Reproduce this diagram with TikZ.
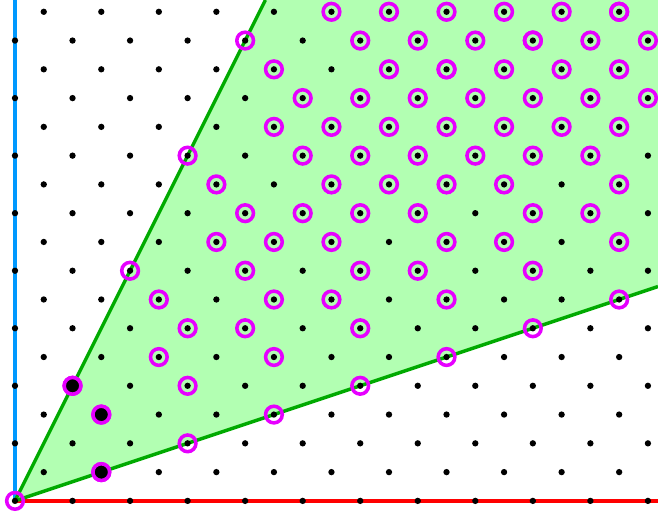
\documentclass[tikz,border=0pt]{standalone}
\definecolor{conefill}{RGB}{178,255,178}
\definecolor{coneline}{RGB}{0,170,0}
\definecolor{axisblue}{RGB}{0,153,255}
\definecolor{axisred}{RGB}{255,0,0}
\definecolor{ringcol}{RGB}{230,0,255}
\tikzset{
  ring/.style={draw=ringcol, line width=1.75pt},
  gen/.style={draw=ringcol, fill=black, line width=1.75pt},
  latdot/.style={fill=black},
  axis/.style={line width=1.7pt},
  coneedge/.style={draw=coneline, line width=1.7pt}
}
\begin{document}
\begin{tikzpicture}[x=0.5cm,y=0.5cm]
\useasboundingbox (-0.521,-0.521) rectangle (22.35,17.41);
\clip (-0.521,-0.521) rectangle (22.35,17.41);
\coordinate (O) at (0,0);
\coordinate (U) at (8.705,17.41);
\coordinate (R) at (22.35,7.45);
\coordinate (TR) at (22.35,17.41);
\fill[conefill] (O) -- (U) -- (TR) -- (R) -- cycle;
\draw[axis, axisblue] (O) -- (0,17.41);
\draw[axis, axisred] (O) -- (22.35,0);
\draw[coneedge] (O) -- (U);
\draw[coneedge] (O) -- (R);
\foreach \i in {0,...,22}{
  \foreach \j in {0,...,17}{
    \pgfmathtruncatemacro\parityval{mod(\i+\j,2)}
    \ifnum\parityval=0 \fill[latdot] (\i,\j) circle (0.055cm); \fi
  }
}
\foreach \p in {0,...,4}{
  \foreach \q in {0,...,5}{
    \foreach \r in {0,...,7}{
      \pgfmathtruncatemacro\xx{2*\p+3*\q+3*\r}
      \pgfmathtruncatemacro\yy{4*\p+3*\q+\r}
      \ifnum\xx<23 \ifnum\yy<18 \draw[ring] (\xx,\yy) circle (0.145cm); \fi\fi
    }
  }
}
\draw[gen] (2,4) circle (0.145cm);
\draw[gen] (3,3) circle (0.145cm);
\draw[gen] (3,1) circle (0.145cm);
\end{tikzpicture}
\end{document}
